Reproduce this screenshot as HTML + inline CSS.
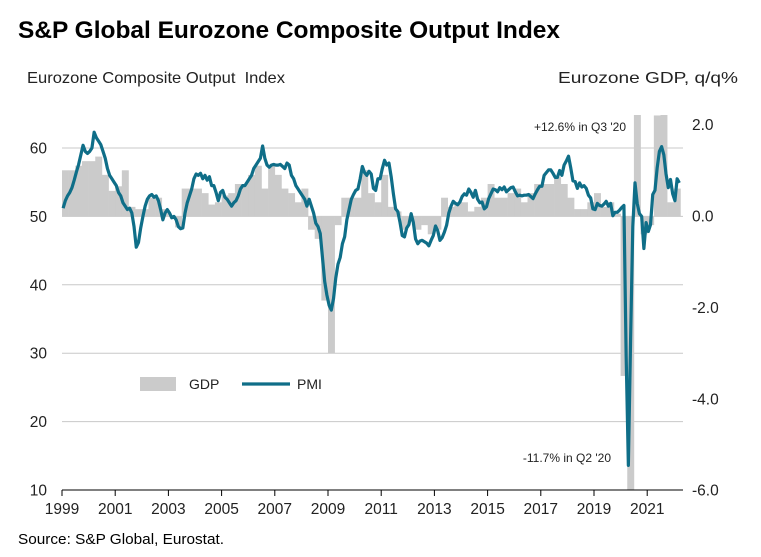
<!DOCTYPE html>
<html><head><meta charset="utf-8"><style>
body{margin:0;background:#fff;}
svg{display:block;font-family:"Liberation Sans",Arial,sans-serif;}
</style></head><body>
<svg id="chart" width="761" height="557" viewBox="0 0 761 557" xmlns="http://www.w3.org/2000/svg">
<text x="18" y="38" font-size="24" font-weight="bold" fill="#000" textLength="542" lengthAdjust="spacingAndGlyphs">S&amp;P Global Eurozone Composite Output Index</text>
<text x="27" y="83" font-size="16" fill="#222" textLength="258" lengthAdjust="spacingAndGlyphs" xml:space="preserve">Eurozone Composite Output  Index</text>
<text x="558" y="83" font-size="16" fill="#222" textLength="180" lengthAdjust="spacingAndGlyphs">Eurozone GDP, q/q%</text>
<g id="grid"></g>
<g id="bars"></g>
<path id="pmi" fill="none" stroke="#0f6e88" stroke-width="3.2" stroke-linejoin="round"/>
<g id="axes"></g>
<text x="626" y="131" font-size="12" fill="#222" text-anchor="end">+12.6% in Q3 '20</text>
<text x="611" y="462" font-size="12" fill="#222" text-anchor="end">-11.7% in Q2 '20</text>
<g>
<rect x="140" y="377" width="36" height="14" fill="#cbcbcb"/>
<text x="189" y="389" font-size="14" fill="#222">GDP</text>
<line x1="242" y1="384" x2="290" y2="384" stroke="#0f6e88" stroke-width="3.2"/>
<text x="297" y="389" font-size="14" fill="#222">PMI</text>
</g>
<text x="18" y="544" font-size="15" fill="#000" textLength="206" lengthAdjust="spacingAndGlyphs">Source: S&amp;P Global, Eurostat.</text>
</svg>
<script>
const gdpValues=[1.0,1.0,1.1,1.2, 1.2,1.3,0.9,0.55, 0.65,1.0,0.2,0.15, 0.15,0.4,0.4,0.15, 0.0,-0.25,0.6,0.6,
0.6,0.5,0.25,0.3, 0.45,0.5,0.7,0.7, 0.9,1.1,0.6,1.1, 0.9,0.6,0.5,0.3, 0.6,-0.3,-0.5,-1.85,
-3.0,-0.2,0.4,0.4, 0.4,1.0,0.5,0.3, 0.9,0.2,0.1,-0.3, -0.1,-0.3,-0.2,-0.4, -0.3,0.4,0.2,0.3,
0.3,0.1,0.2,0.4, 0.7,0.4,0.4,0.5, 0.6,0.3,0.5,0.7, 0.7,0.7,0.85,0.7, 0.4,0.15,0.15,0.3,
0.5,0.2,0.3,0.05, -3.5,-11.7,12.6,-0.4, -0.2,2.2,2.3,0.3, 0.6];
const pmiValues=[51.2,52.3,53,53.5,54.2,55.3,56.5,57.6,59,60.4,59.5,59.2,
59.5,60,62.3,61.5,61,60.5,59.5,58.5,57,56,55.5,55,
54.5,53.5,53,52,51.5,51,51.2,50.5,48.5,45.5,46.2,48.3,
50,51.5,52.5,53,53.2,52.8,53,52.3,51,49.5,50.5,51,
50.5,49.8,50,49.5,48.5,48.2,48.3,50.5,52,53,54,55.5,
56.2,56,56.3,55.5,56,55.3,55.8,54.5,54.5,53.5,52.3,53.5,
53.8,52.8,52.5,52,51.5,52,52.3,53,54,54.5,54.5,55,
55.5,56,57,57.5,58,58.5,60.3,58.5,57.5,57.2,57.5,57.6,
57.5,57.5,57.6,57.3,57,57.8,57.5,56,55.5,54.5,54,53.5,
53,52.5,51.5,52.5,51.5,50.5,49,48.5,47.5,44,40.5,38.5,
37,36.3,38,41,43,44,46,47,49.5,51,52.5,53.2,
53.8,54,55.5,57.3,56.4,56,56.6,56.2,54.1,53.8,55.5,55.5,
57,58.2,57.5,57.8,55.8,53.3,51.1,50.7,49.1,47.2,47,48.3,
48.8,50.4,49.1,46.7,46,46.4,46.5,46.3,46.1,45.7,46.5,47.2,
48.6,47.9,46.5,46.9,47.7,48.7,50.5,51.5,52.2,51.9,51.7,52.1,
52.9,53.3,53.1,54,53.5,52.8,53.8,52.5,52,52.1,51.1,51.4,
52.6,53.3,54,53.9,53.6,54.2,53.9,54.3,53.6,53.9,54.2,54.3,
53.6,53,53.1,53,53.1,53.1,53.2,52.9,52.6,53.3,53.9,54.4,
54.4,56,56.4,56.8,56.8,56.3,55.7,55.7,56.7,56,57.5,58.1,
58.8,57.1,55.2,55.1,54.1,54.9,54.3,54.5,54.1,53.1,52.7,51.1,
51,51.9,51.6,51.5,51.8,52.2,51.5,51.9,50.1,50.6,50.6,50.9,
51.3,51.6,29.7,13.6,31.9,48.5,54.9,51.9,50.4,50,45.3,49.1,
47.8,48.8,53.2,53.8,57.1,59.5,60.2,59,56.2,54.2,55.4,53.3,
52.3,55.5,54.9];
const leftTicks=[10,20,30,40,50,60];
const rightTicks=["2.0","0.0","-2.0","-4.0","-6.0"];
const yearTicks=[1999,2001,2003,2005,2007,2009,2011,2013,2015,2017,2019,2021];

const NS="http://www.w3.org/2000/svg";
const X0=62,XR=683,PX_YEAR=26.6;
const xT=t=>X0+(t-1999)*PX_YEAR;
const yL=v=>490-(v-10)*6.84;
const yR=v=>216-v*45.7;
function mk(tag,parent,attrs){const e=document.createElementNS(NS,tag);for(const k in attrs)e.setAttribute(k,attrs[k]);parent.appendChild(e);return e;}

const grid=document.getElementById('grid');
[20,30,40,50,60].forEach(v=>{
  const l=mk('line',grid,{x1:X0,x2:XR,y1:yL(v),y2:yL(v),stroke:'#c8c8c8','stroke-width':1});
  
  
});

const bars=document.getElementById('bars');
const bw=PX_YEAR/4;
gdpValues.forEach((v,i)=>{
  const x=xT(1999+i/4);
  let top=yR(Math.max(v,0)),bot=yR(Math.min(v,0));
  top=Math.max(top,115);bot=Math.min(bot,490);
  const r=mk('rect',bars,{x:x.toFixed(2),y:top.toFixed(2),width:(bw+0.3).toFixed(2),height:Math.max(bot-top,0).toFixed(2),fill:'#cbcbcb'});
  
  
});

let d='';
pmiValues.forEach((v,i)=>{d+=(i?'L':'M')+xT(1999+(i+0.5)/12).toFixed(2)+','+yL(v).toFixed(2);});
document.getElementById('pmi').setAttribute('d',d);

const ax=document.getElementById('axes');
const base=mk('line',ax,{x1:X0,x2:XR,y1:490,y2:490,stroke:'#000','stroke-width':1});


yearTicks.forEach(y=>{
  const x=xT(y);
  const t=mk('line',ax,{x1:x,x2:x,y1:490,y2:496,stroke:'#000','stroke-width':1});
  
  
  const lb=mk('text',ax,{x:x,y:514,'font-size':15.5,fill:'#222','text-anchor':'middle'});
  lb.textContent=y;
  
  
});
leftTicks.forEach(v=>{
  const lb=mk('text',ax,{x:47,y:yL(v)+5.5,'font-size':15.5,fill:'#222','text-anchor':'end'});
  lb.textContent=v;
  
  
});
rightTicks.forEach(s=>{
  const lb=mk('text',ax,{x:692,y:yR(parseFloat(s))+5.5,'font-size':15.5,fill:'#222'});
  lb.textContent=s;
  
  
});
</script>
</body></html>
